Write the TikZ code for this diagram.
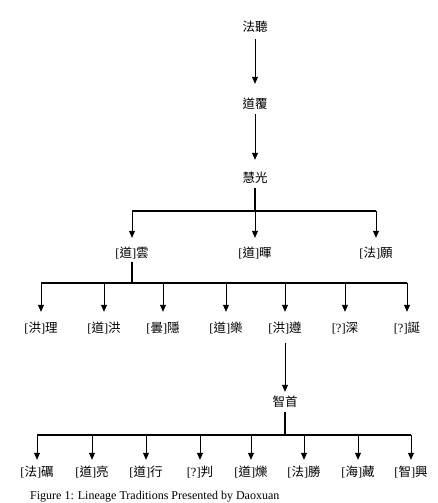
\documentclass[tikz,border=0pt]{standalone}
\usepackage{fontspec}
\setmainfont{Liberation Serif}
\newfontfamily\cjk{Noto Sans CJK TC}
\usetikzlibrary{arrows.meta}
\newcommand{\zh}[1]{{\cjk #1}}

\begin{document}
\begin{tikzpicture}[x=1pt, y=-1pt, >={Triangle[length=7pt,width=6pt]},
  monk/.style={inner sep=0pt, font=\fontsize{12.5}{14}\selectfont, text height=10pt, text depth=2pt},
  bus/.style={line width=1.6pt},
  drop/.style={->, line width=0.8pt}]
\useasboundingbox (0,0) rectangle (437,503);
\def\levelOne{253}
\def\levelTwo{328}
\def\levelThree{472}

%Chain
\node (fa) at (255,28) [monk] {\zh{法聽}};
\node (dao) at (255,104) [monk] {\zh{道覆}};
\node (hui) at (255,178) [monk] {\zh{慧光}};
\draw[drop, shorten <=5pt, shorten >=14pt] (fa) -- (dao);
\draw[drop, shorten <=4pt, shorten >=12pt] (dao) -- (hui);

%Level 1
\node (yun) at (132,\levelOne) [monk] {[\zh{道}]\zh{雲}};
\node (hui2) at (255,\levelOne) [monk] {[\zh{道}]\zh{暉}};
\node (yuan) at (376,\levelOne) [monk] {[\zh{法}]\zh{願}};
\coordinate (b1) at (255,211);
\draw[bus, shorten <=4pt] (hui) -- (b1);
\draw[bus] (yun |- b1) -- (yuan |- b1);
\foreach \c in {yun,hui2,yuan}
  \draw[drop, shorten >=9pt] (\c |- b1) -- (\c);

%Level 2
\node (li) at (41,\levelTwo) [monk] {[\zh{洪}]\zh{理}};
\node (hong) at (104,\levelTwo) [monk] {[\zh{道}]\zh{洪}};
\node (yin) at (163,\levelTwo) [monk] {[\zh{曇}]\zh{隱}};
\node (le) at (226,\levelTwo) [monk] {[\zh{道}]\zh{樂}};
\node (zun) at (285,\levelTwo) [monk] {[\zh{洪}]\zh{遵}};
\node (shen) at (345,\levelTwo) [monk] {[?]\zh{深}};
\node (dan) at (407,\levelTwo) [monk] {[?]\zh{誕}};
\coordinate (b2) at (132,283);
\draw[bus, shorten <=3pt] (yun) -- (b2);
\draw[bus] (li |- b2) -- (dan |- b2);
\foreach \c in {li,hong,yin,le,zun,shen,dan}
  \draw[drop, shorten >=10pt] (\c |- b2) -- (\c);

%Level 3
\node (zhi) at (285,402) [monk] {\zh{智首}};
\draw[drop, shorten <=9pt, shorten >=4pt] (zun) -- (zhi);
\node (li2) at (37,\levelThree) [monk] {[\zh{法}]\zh{礪}};
\node (liang) at (92,\levelThree) [monk] {[\zh{道}]\zh{亮}};
\node (xing) at (146,\levelThree) [monk] {[\zh{道}]\zh{行}};
\node (pan) at (200,\levelThree) [monk] {[?]\zh{判}};
\node (shuo) at (251,\levelThree) [monk] {[\zh{道}]\zh{爍}};
\node (sheng) at (304,\levelThree) [monk] {[\zh{法}]\zh{勝}};
\node (zang) at (358,\levelThree) [monk] {[\zh{海}]\zh{藏}};
\node (xing2) at (411,\levelThree) [monk] {[\zh{智}]\zh{興}};
\coordinate (b3) at (285,435);
\draw[bus, shorten <=4pt] (zhi) -- (b3);
\draw[bus] (li2 |- b3) -- (xing2 |- b3);
\foreach \c in {li2,liang,xing,pan,shuo,sheng,zang,xing2}
  \draw[drop, shorten >=6pt] (\c |- b3) -- (\c);

%Caption
\node (cap) at (30,499.5) [anchor=base west, inner sep=0pt, font=\fontsize{12}{14}\selectfont] {Figure 1: Lineage Traditions Presented by Daoxuan};

\end{tikzpicture}
\end{document}
